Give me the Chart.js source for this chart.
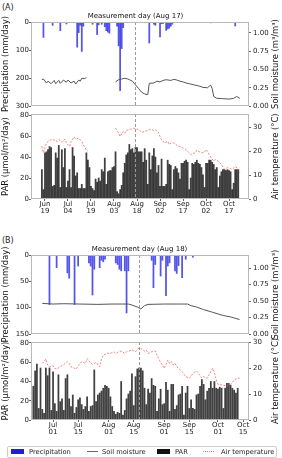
<!DOCTYPE html>
<html lang="en">
<head>
<meta charset="UTF-8">
<title>Precipitation, soil moisture, PAR and air temperature</title>
<script src="https://cdn.jsdelivr.net/npm/chart.js"></script>
<style>
    html, body { margin: 0; padding: 0; background: #fff; }
    body { position: relative; width: 282px; height: 458px; overflow: hidden; font-family: 'DejaVu Sans', sans-serif; color: #222; }
    canvas { position: absolute; left: 0; top: 0; }
    .tag { position: absolute; left: 2px; font-size: 8px; line-height: 9px; }
    .legend { position: absolute; left: 7px; top: 446px; width: 268px; height: 10px; border: 1px solid #ccc; border-radius: 2px; font-size: 6.7px; }
    .legend span { position: absolute; top: 1px; line-height: 8px; white-space: nowrap; }
    .legend i { position: absolute; display: block; }
</style>
</head>
<body>
<div class="tag" style="top:3px">(A)</div>
<div class="tag" style="top:236px">(B)</div>
<canvas id="aTop" width="282" height="458"></canvas>
<canvas id="aBottom" width="282" height="458"></canvas>
<canvas id="bTop" width="282" height="458"></canvas>
<canvas id="bBottom" width="282" height="458"></canvas>
<div class="legend">
    <i style="left:3px;top:2px;width:13px;height:5px;background:#1f1fd8"></i>
    <span style="left:21px">Precipitation</span>
    <i style="left:79px;top:4px;width:11px;height:1px;background:#666"></i>
    <span style="left:94px">Soil moisture</span>
    <i style="left:149px;top:2px;width:13px;height:5px;background:#111"></i>
    <span style="left:167px">PAR</span>
    <i style="left:195px;top:4px;width:11px;height:0;border-top:1px dotted #ee6f6f"></i>
    <span style="left:213px">Air temperature</span>
</div>
<script>
    // x values are days counted from Jun 1
    const tickDaysA = [18, 33, 48, 63, 78, 93, 108, 123, 138];
    const tickLabelsA = ['Jun 19', 'Jul 04', 'Jul 19', 'Aug 03', 'Aug 18', 'Sep 02', 'Sep 17', 'Oct 02', 'Oct 17'];
    const tickDaysB = [30, 44, 61, 75, 92, 106, 122, 136];
    const tickLabelsB = ['Jul 01', 'Jul 15', 'Aug 01', 'Aug 15', 'Sep 01', 'Sep 15', 'Oct 01', 'Oct 15'];

    // (A) measurement day Aug 17, (B) Aug 18
    const measureDayA = 77;
    const measureDayB = 78;

    // precipitation (mm/day)
    const precipADays = [17, 23, 28, 32, 39, 40, 41, 42, 43, 49, 52, 53, 55, 57, 58, 59, 60, 65, 66, 67, 68, 69, 86, 89, 90, 93, 94, 95, 97, 98, 99, 100, 101, 126, 142];
    const precipAVals = [55, 12, 31, 7, 90, 38, 12, 105, 15, 8, 45, 10, 8, 17, 31, 36, 40, 15, 85, 245, 95, 20, 75, 8, 12, 53, 6, 5, 30, 25, 22, 15, 8, 3, 14];
    const precipBDays = [28, 32, 38, 39, 42, 44, 50, 51, 52, 53, 56, 57, 58, 59, 65, 66, 67, 68, 70, 71, 72, 85, 86, 87, 90, 91, 93, 94, 95, 98, 99, 100, 102, 104, 108];
    const precipBVals = [94, 24, 34, 44, 94, 21, 15, 21, 76, 27, 24, 10, 13, 8, 15, 18, 27, 30, 30, 110, 30, 10, 62, 18, 40, 10, 77, 21, 15, 30, 35, 20, 43, 8, 4];

    // soil moisture (m3/m3), null = gap in record
    const soilADays = [16, 17, 19, 20, 22, 24, 25, 27, 28, 30, 32, 33, 35, 37, 38, 40, 41, 42, 44, 45, 55,
        64, 66, 68, 70, 72, 75, 77, 79, 81, 83, 85, 86, 89, 91, 93, 95, 97, 100, 102, 104,
        106, 108, 110, 113, 115, 117, 119, 121, 124, 125, 126, 127, 128, 130, 134, 138, 141, 143, 145];
    const soilAVals = [0.36, 0.37, 0.315, 0.34, 0.305, 0.35, 0.305, 0.35, 0.31, 0.355, 0.325, 0.355, 0.315, 0.34, 0.30, 0.355, 0.34, 0.38, 0.375, 0.39, null,
        0.33, 0.36, 0.37, 0.38, 0.37, 0.34, 0.29, 0.24, 0.19, 0.165, 0.155, 0.31, 0.315, 0.34, 0.33, 0.35, 0.36, 0.35, 0.365, 0.355,
        0.34, 0.33, 0.315, 0.30, 0.29, 0.28, 0.27, 0.255, 0.25, 0.27, 0.285, 0.24, 0.13, 0.105, 0.10, 0.095, 0.105, 0.13, 0.105];
    const soilBDays = [24, 30, 36, 45, 55, 63, 68, 72, 74, 77, 79, 81, 83, 92, 100, 105, 107, 110, 114, 119, 125, 129, 134];
    const soilBVals = [0.465, 0.455, 0.46, 0.455, 0.45, 0.455, 0.455, 0.455, 0.44, 0.41, 0.38, 0.43, 0.45, 0.455, 0.455, 0.455, 0.43, 0.41, 0.37, 0.33, 0.28, 0.26, 0.22];

    // PAR (umol/m2/day), one value per day from the start day
    const parAStart = 16;
    const parA = [28, 9, 44, 45, 47, 50, 49, 12, 13, 44, 39, 51, 11, 47, 30, 48, 11, 17, 28, 11,
        49, 41, 22, 25, 10, 10, 14, 10, 10, 44, 37, 30, 12, 10, 8, 19, 16, 20, 17, 28,
        26, 39, 14, 26, 27, 27, 30, 31, 45, 7, 5, 9, 13, 25, 34, 42, 44, 52, 47, 48,
        44, 49, 49, 45,
        45, 45, 35, 48, 37, 14, 44, 28, 41, 48, 40, 25, 32, 12, 38, 12, 12, 14, 37, 33,
        32, 9, 28, 31, 29, 25, 19, 34, 34, 36, 37, 35, 9, 20, 34, 33, 35, 37, 34, 33,
        30, 23, 11, 34, 34, 37, 37, 35, 33, 28, 30, 11, 22, 26, 28, 28, 27, 28, 27, 26,
        9, 15, 28, 28, 28];
    const parBStart = 19;
    const parB = [35, 51, 58, 12, 54, 11, 7, 54, 46, 54, 10, 50, 17, 9, 47, 19, 22, 10, 43, 47,
        22, 14, 26, 7, 13, 21, 23, 16, 11, 14, 24, 9, 14, 15, 52, 19, 26, 28, 30, 33,
        36, 35, 33, 24, 14, 9, 6, 8, 7, 40, 5, 10, 22, 27, 30, 48, 15, 45, 53, 54,
        54, 51, 33, 16, 32, 28, 43, 36, 35, 9, 22, 32, 16, 17, 39, 31, 9, 37, 37, 11,
        15, 26, 27, 35, 5, 28, 35, 12, 21, 12, 11, 26, 27, 35, 42, 37, 21, 30, 33, 40,
        33, 40, 33, 32, 34, 33, 12, 33, 38, 38, 36, 33, 31, 28, 33];

    // air temperature (deg C), null = gap in record
    const tempADays = [16, 17, 19, 21, 23, 26, 27, 29, 31, 32, 34, 35, 37, 38, 40, 42, 43, 45, 46, 55,
        64, 66, 67, 69, 70, 71, 74, 76, 78, 80, 81, 83, 85, 87, 89, 90, 92, 93, 94, 96,
        98, 99, 100, 102, 105, 107, 109, 111, 113, 116, 117, 118, 120, 122, 123, 124, 125, 128, 129, 131,
        133, 135, 137, 140, 142, 144, 145];
    const tempAVals = [22, 19.3, 23.4, 24.5, 24.9, 24, 24.8, 23.7, 25, 23.4, 22, 24, 25.9, 25, 25.4, 24, 22.7, 20.4, 20, null,
        29.6, 27.5, 26.1, 28.2, 27.5, 28.6, 29.2, 29.6, 29.2, 28.6, 27.8, 28.2, 28.6, 29.2, 28.6, 28.9, 27.8, 26.1, 24.8, 23.4,
        24.1, 22.7, 23.4, 23.4, 22, 21.7, 20.9, 19.9, 18.6, 19.3, 20.4, 19.9, 19.3, 19.5, 20.6, 19.9, 18.6, 15.8, 16.5, 15.8,
        14.4, 12.4, 13.1, 12.4, 13.5, 12.7, 11];
    const tempBDays = [24, 25, 26, 27, 28, 30, 31, 32, 34, 36, 38, 39, 40, 42, 43, 44, 46, 48, 49, 50,
        52, 54, 56, 57, 58, 60, 62, 64, 65, 66, 68, 70, 71, 74, 76, 77, 78, 79, 81, 82,
        83, 85, 87, 88, 90, 91, 92, 94, 95, 96, 97, 98, 99, 100, 102, 104, 106, 107, 108, 110,
        111, 113, 114, 116, 118, 119, 120, 121, 122, 124, 126, 128, 129, 131, 133, 134];
    const tempBVals = [21.9, 22.6, 23.6, 21.3, 20.6, 21, 20, 19.7, 20.6, 21.5, 22.6, 21.9, 20.6, 20, 19.7, 21, 22.6, 21.9, 23.8, 22.8,
        21.5, 22.3, 20.6, 23.6, 25.1, 25.8, 25.8, 26.4, 25.8, 26.2, 26.7, 25.8, 26.4, 27.1, 26.4, 27.4, 27.9, 27.7, 26.7, 27.1,
        25.8, 26.4, 26.7, 25.1, 22.3, 21.3, 20, 23.2, 21.9, 22.6, 21.3, 21.9, 20.6, 20, 18.7, 16.8, 16.2, 16.8, 18.1, 19,
        18.1, 16.2, 16.8, 16.2, 18.7, 20, 18.5, 15.5, 13.8, 13.6, 13.3, 13.6, 13.6, 15.5, 16.2, 16.2];

    // axis ticks
    const precipTicksA = [0, 100, 200, 300];
    const precipTicksB = [0, 50, 100, 150];
    const soilTicks = [0, 0.25, 0.5, 0.75, 1.0];
    const parTicks = [0, 20, 40, 60, 80];
    const tempTicks = [0, 10, 20, 30];

    Chart.defaults.font.family = "'DejaVu Sans', sans-serif";
    Chart.defaults.color = '#222';

    const PRECIP_COLOR = 'rgba(20, 20, 225, 0.72)';
    const PAR_COLOR = 'rgba(10, 10, 10, 0.78)';
    const SOIL_COLOR = '#555';
    const TEMP_COLOR = 'rgba(240, 95, 95, 0.85)';
    const TITLE_SIZE = 8.4;

    const pairs = (xs, ys) => xs.map((x, i) => ({ x: x, y: ys[i] }));
    const daily = (start, ys) => ys.map((y, i) => ({ x: start + i, y: y }));

    // frame, measurement line and its caption, right axis title
    const panelDecor = {
        id: 'panelDecor',
        afterDraw(chart, args, opts) {
            const { ctx, chartArea: a, scales } = chart;
            const x = Math.round(scales.x.getPixelForValue(opts.day)) + 0.5;
            ctx.save();
            ctx.strokeStyle = '#999';
            ctx.lineWidth = 1;
            ctx.setLineDash([3, 2]);
            ctx.beginPath();
            ctx.moveTo(x, a.top);
            ctx.lineTo(x, a.bottom);
            ctx.stroke();
            ctx.setLineDash([]);
            ctx.strokeStyle = '#b8b8b8';
            ctx.strokeRect(Math.round(a.left) + 0.5, Math.round(a.top) + 0.5, Math.round(a.width) - 1, Math.round(a.height) - 1);
            ctx.fillStyle = '#111';
            ctx.textAlign = 'center';
            ctx.textBaseline = 'middle';
            if (opts.caption) {
                ctx.font = "7px 'DejaVu Sans'";
                ctx.fillText(opts.caption, x, a.top - 6);
            }
            ctx.font = TITLE_SIZE + "px 'DejaVu Sans'";
            ctx.translate(276, (a.top + a.bottom) / 2);
            ctx.rotate(-Math.PI / 2);
            ctx.fillText(opts.rightTitle, 0, 0);
            ctx.restore();
        }
    };

    function yAxis(side, min, max, ticks, fmt, reverse, title) {
        return {
            position: side,
            min: min,
            max: max,
            reverse: reverse,
            afterBuildTicks: s => { s.ticks = ticks.map(v => ({ value: v })); },
            afterFit: s => { s.width = side === 'left' ? 31 : 33; },
            grid: { drawOnChartArea: false, tickLength: 2, color: '#666' },
            border: { display: false },
            ticks: { font: { size: 7 }, padding: side === 'left' ? 0 : 2, callback: v => fmt(v) },
            title: title ? { display: true, text: title, font: { size: TITLE_SIZE }, color: '#111', padding: { top: 1, bottom: 0 } } : { display: false }
        };
    }

    function xAxis(min, max, show, days, labels) {
        return {
            type: 'linear',
            min: min,
            max: max,
            display: show,
            offset: false,
            afterBuildTicks: s => { s.ticks = days.map(v => ({ value: v })); },
            afterFit: s => { s.height = show ? 16 : 0; },
            grid: { drawOnChartArea: false, offset: false, tickLength: 2, color: '#666' },
            border: { display: false },
            ticks: {
                font: { size: 7, lineHeight: 0.95 },
                padding: 0,
                maxRotation: 0,
                autoSkip: false,
                callback: v => labels[days.indexOf(v)].split(' ')
            }
        };
    }

    function panel(id, top, bottom, x, yL, yR, datasets, decor) {
        new Chart(document.getElementById(id), {
            type: 'bar',
            data: { datasets: datasets },
            options: {
                responsive: false,
                animation: false,
                layout: { padding: { top: top, bottom: bottom, left: 0, right: 0 } },
                plugins: { legend: { display: false }, tooltip: { enabled: false }, panelDecor: decor },
                scales: { x: x, yL: yL, yR: yR }
            },
            plugins: [panelDecor]
        });
    }

    const lineSet = (data, color, dash, width) => ({
        type: 'line', data: data, yAxisID: 'yR', borderColor: color, borderWidth: width,
        borderDash: dash, pointRadius: 0, tension: 0, spanGaps: false
    });
    const barSet = (data, color, axis) => ({
        type: 'bar', data: data, yAxisID: axis, backgroundColor: color, barThickness: 1.1, borderWidth: 0
    });

    const two = v => v.toFixed(2);
    const whole = v => String(v);

    // (A) top: precipitation and soil moisture
    panel('aTop', 22, 352,
        xAxis(8.9, 151, false, tickDaysA, tickLabelsA),
        yAxis('left', 0, 300, precipTicksA, whole, true, 'Precipitation (mm/day)'),
        yAxis('right', 0, 1.15, soilTicks, two, false, null),
        [lineSet(pairs(soilADays, soilAVals), SOIL_COLOR, [], 1),
         barSet(pairs(precipADays, precipAVals), PRECIP_COLOR, 'yL')],
        { day: measureDayA, caption: 'Measurement day (Aug 17)', rightTitle: 'Soil moisture (m³/m³)' });

    // (A) bottom: PAR and air temperature
    panel('aBottom', 114, 243,
        xAxis(8.9, 151, true, tickDaysA, tickLabelsA),
        yAxis('left', 0, 81, parTicks, whole, false, 'PAR (μmol/m²/day)'),
        yAxis('right', 0, 35.5, tempTicks, whole, false, null),
        [lineSet(pairs(tempADays, tempAVals), TEMP_COLOR, [2, 1.5], 0.9),
         barSet(daily(parAStart, parA), PAR_COLOR, 'yL')],
        { day: measureDayA, caption: null, rightTitle: 'Air temperature (°C)' });

    // (B) top
    panel('bTop', 255, 124,
        xAxis(17.7, 139.3, false, tickDaysB, tickLabelsB),
        yAxis('left', 0, 150, precipTicksB, whole, true, 'Precipitation (mm/day)'),
        yAxis('right', 0, 1.2, soilTicks, two, false, null),
        [lineSet(pairs(soilBDays, soilBVals), SOIL_COLOR, [], 1),
         barSet(pairs(precipBDays, precipBVals), PRECIP_COLOR, 'yL')],
        { day: measureDayB, caption: 'Measurement day (Aug 18)', rightTitle: 'Soil moisture (m³/m³)' });

    // (B) bottom
    panel('bBottom', 342, 22,
        xAxis(17.7, 139.3, true, tickDaysB, tickLabelsB),
        yAxis('left', 0, 81, parTicks, whole, false, 'PAR (μmol/m²/day)'),
        yAxis('right', 0, 30.2, tempTicks, whole, false, null),
        [lineSet(pairs(tempBDays, tempBVals), TEMP_COLOR, [2, 1.5], 0.9),
         barSet(daily(parBStart, parB), PAR_COLOR, 'yL')],
        { day: measureDayB, caption: null, rightTitle: 'Air temperature (°C)' });
</script>
</body>
</html>
